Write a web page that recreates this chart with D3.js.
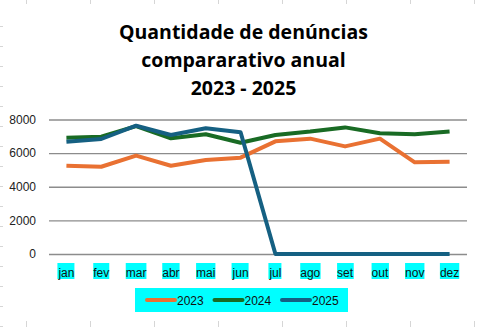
<!DOCTYPE html>
<html><head><meta charset="utf-8">
<script src="https://cdn.jsdelivr.net/npm/d3@7"></script>
<style>
html,body{margin:0;padding:0;background:#fff;}
svg{display:block;}
</style></head>
<body>
<svg id="c" width="479" height="327"></svg>
<script>
const months = ["jan","fev","mar","abr","mai","jun","jul","ago","set","out","nov","dez"];
const s2023 = [5250,5190,5850,5250,5590,5730,6700,6860,6400,6860,5450,5490];
const s2024 = [6920,6980,7610,6880,7120,6620,7080,7280,7530,7180,7120,7280];
const s2025 = [6680,6840,7630,7080,7480,7240,0,0,0,0,0,0];
const yTicks = [0,2000,4000,6000,8000];
const seriesNames = ["2023","2024","2025"];
const seriesColors = ["#E97132","#196B24","#156082"];
const titleLines = ["Quantidade de denúncias","compararativo anual","2023 - 2025"];

const svg = d3.select("#c");
const W = 479, H = 327;

// faint sheet grid ticks
const faint = svg.append("g").attr("stroke","#d6d6d6").attr("stroke-width",1);
d3.range(26, 480, 64).forEach(x=>{
  faint.append("line").attr("x1",x+0.5).attr("x2",x+0.5).attr("y1",0).attr("y2",4);
  faint.append("line").attr("x1",x+0.5).attr("x2",x+0.5).attr("y1",321).attr("y2",327);
});
d3.range(26, 327, 20).forEach(y=>{
  faint.append("line").attr("x1",0).attr("x2",3).attr("y1",y+0.5).attr("y2",y+0.5);
});

// title
const title = svg.append("text").attr("text-anchor","middle")
  .attr("font-family","'Open Sans', 'Noto Sans', sans-serif").attr("font-weight","bold")
  .attr("font-size",19.5).attr("fill","#000");
titleLines.forEach((t,i)=>{
  title.append("tspan").attr("x",243.5).attr("y",39+i*28).text(t);
});

const x = d3.scaleBand().domain(months).range([49,467]);
const y = d3.scaleLinear().domain([0,8000]).range([254,119.5]);

// gridlines
const yAxis = d3.axisLeft(y).tickValues(yTicks).tickSize(-(467-49)).tickFormat(d3.format("d"));
const gy = svg.append("g").attr("transform","translate(49,0)").call(yAxis);
gy.select(".domain").remove();
gy.selectAll(".tick line").attr("stroke","#8c8c8c").attr("stroke-width",1.3);
gy.selectAll(".tick text").attr("x",-13).attr("font-family","'Liberation Sans', Arial, sans-serif")
  .attr("font-size",12).attr("fill","#222");

// x labels with cyan highlight
const xAxis = d3.axisBottom(x).tickSize(0).tickPadding(0);
const gx = svg.append("g").attr("transform","translate(0,254)").call(xAxis);
gx.select(".domain").remove();
gx.selectAll(".tick text").attr("y",23).attr("dy",0).attr("font-family","'Liberation Sans', Arial, sans-serif")
  .attr("font-size",12).attr("fill","#111");
gx.selectAll(".tick").each(function(){
  const t = d3.select(this).select("text");
  const bb = t.node().getBBox();
  d3.select(this).insert("rect","text").attr("x",bb.x).attr("y",9).attr("width",bb.width).attr("height",16)
    .attr("fill","#00FFFF");
});

// lines
const allSeries = [s2023,s2024,s2025];
const line = d3.line().x((d,i)=>x(months[i])+x.bandwidth()/2).y(d=>y(d));
allSeries.forEach((s,k)=>{
  svg.append("path").datum(s).attr("d",line).attr("fill","none")
    .attr("stroke",seriesColors[k]).attr("stroke-width",4).attr("stroke-linejoin","round").attr("stroke-linecap","butt");
});

// legend
const lg = svg.append("g");
lg.append("rect").attr("x",135).attr("y",288).attr("width",213).attr("height",24).attr("fill","#00FFFF");
const lx = d3.scalePoint().domain(seriesNames).range([147,282]);
seriesNames.forEach((n,k)=>{
  const x0 = lx(n);
  lg.append("line").attr("x1",x0).attr("x2",x0+28).attr("y1",300).attr("y2",300)
    .attr("stroke",seriesColors[k]).attr("stroke-width",4).attr("stroke-linecap","round");
  lg.append("text").attr("x",x0+30).attr("y",304.5).attr("font-family","'Liberation Sans', Arial, sans-serif")
    .attr("font-size",12).attr("fill","#111").text(n);
});
</script>
</body></html>
